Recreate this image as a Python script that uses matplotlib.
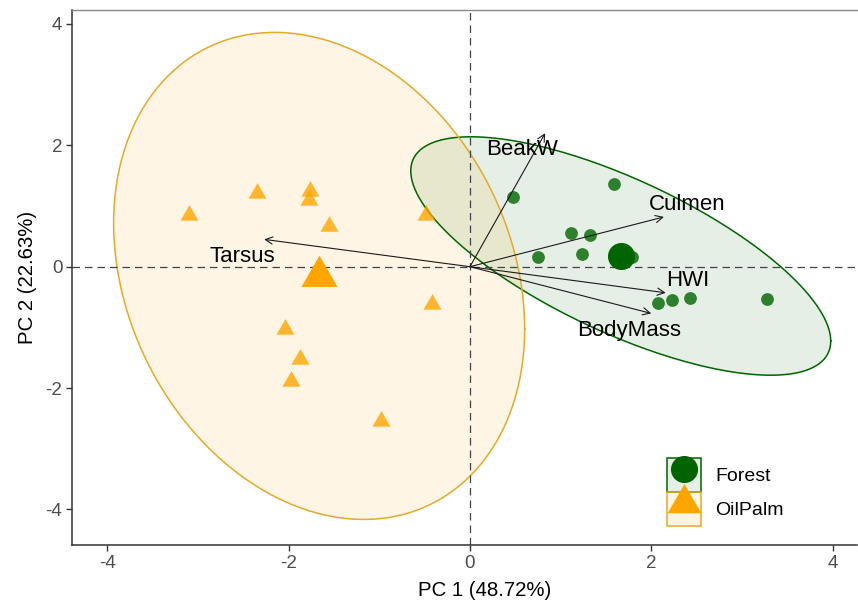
import numpy as np
import matplotlib
matplotlib.use('Agg')
from matplotlib import pyplot as plot
from matplotlib.patches import Patch
from matplotlib.lines import Line2D
from matplotlib.path import Path
from matplotlib.legend_handler import HandlerTuple

plot.rcParams['font.family'] = ['Liberation Sans', 'DejaVu Sans']
plot.rcParams['axes.unicode_minus'] = False

# PCA individual scores
forest_pc1 = [0.48, 1.59, 1.11, 1.33, 0.75, 1.24, 1.79, 2.07, 2.23, 2.43, 3.28]
forest_pc2 = [1.15, 1.36, 0.55, 0.53, 0.16, 0.21, 0.16, -0.59, -0.55, -0.51, -0.53]
oilpalm_pc1 = [-3.10, -2.35, -1.76, -1.77, -1.55, -0.48, -0.42, -2.04, -1.88, -1.97, -0.98]
oilpalm_pc2 = [0.85, 1.21, 1.24, 1.10, 0.67, 0.85, -0.61, -1.03, -1.52, -1.89, -2.54]

# variable loadings (arrow tips)
var_names = ['BeakW', 'Culmen', 'HWI', 'BodyMass', 'Tarsus']
var_pc1 = [0.83, 2.14, 2.16, 2.00, -2.27]
var_pc2 = [2.20, 0.82, -0.43, -0.77, 0.45]

groups = ['Forest', 'OilPalm']
x_label = 'PC 1 (48.72%)'
y_label = 'PC 2 (22.63%)'

# qf(0.95, 2, n - 1) with n = 11, as used by stat_ellipse
F95 = 4.1028

# colours
green = '#006400'
orange = '#FFA500'
orange_edge = '#E3AA2C'

# label offsets (points) from arrow tips
label_offsets = {'BeakW': (-17, -12), 'Culmen': (17, 9), 'HWI': (16, 9),
                 'BodyMass': (-16, -12), 'Tarsus': (-16, -12)}

# equilateral triangle centred on its centroid (like R pch 17)
tri = Path([(0, 0.577), (-0.5, -0.289), (0.5, -0.289), (0, 0.577)],
           [Path.MOVETO, Path.LINETO, Path.LINETO, Path.CLOSEPOLY])


def conf_ellipse(x, y, n_pts=300):
    xy = np.column_stack([x, y])
    center = xy.mean(axis=0)
    cov = np.cov(xy, rowvar=False)
    radius = np.sqrt(2 * F95)
    t = np.linspace(0, 2 * np.pi, n_pts)
    circle = np.column_stack([np.cos(t), np.sin(t)])
    chol = np.linalg.cholesky(cov)
    return center + radius * circle @ chol.T


fig = plot.figure(figsize=(8.58, 6.10), dpi=100)
ax = fig.add_axes([72 / 858, 65 / 610, 785 / 858, 535.3 / 610])

# ellipses
for px, py, col, edge in [(forest_pc1, forest_pc2, green, green),
                          (oilpalm_pc1, oilpalm_pc2, orange, orange_edge)]:
    ell = conf_ellipse(px, py)
    ax.fill(ell[:, 0], ell[:, 1], color=col, alpha=0.1, lw=0, zorder=1)
    ax.plot(ell[:, 0], ell[:, 1], color=edge, lw=1.1, zorder=2)

# reference lines
ax.axhline(0, color='#444444', lw=0.9, ls=(0, (6, 4)), zorder=2.5)
ax.axvline(0, color='#444444', lw=0.9, ls=(0, (6, 4)), zorder=2.5)

# individuals
ax.plot(forest_pc1, forest_pc2, 'o', color=green, alpha=0.8, ms=9.2, mew=0, zorder=3)
ax.plot(oilpalm_pc1, oilpalm_pc2, marker=tri, ls='', color=orange, alpha=0.8, ms=15, mew=0, zorder=3)

# group means
ax.plot(np.mean(forest_pc1), np.mean(forest_pc2), 'o', color=green, ms=19.5, mew=0, zorder=4)
ax.plot(np.mean(oilpalm_pc1), np.mean(oilpalm_pc2), marker=tri, ls='', color=orange, ms=30, mew=0, zorder=4)

# variable arrows
for name, vx, vy in zip(var_names, var_pc1, var_pc2):
    ax.annotate('', xy=(vx, vy), xytext=(0, 0),
                arrowprops=dict(arrowstyle='->', color='#1a1a1a', lw=0.8,
                                mutation_scale=13, shrinkA=0, shrinkB=0),
                zorder=5)
    ax.annotate(name, xy=(vx, vy), xytext=label_offsets[name], textcoords='offset points',
                ha='center', va='center', fontsize=16, color='black', zorder=6)

ax.set_xlim(-4.39, 4.27)
ax.set_ylim(-4.585, 4.234)
ax.set_xticks([-4, -2, 0, 2, 4])
ax.set_yticks([-4, -2, 0, 2, 4])
ax.tick_params(axis='both', direction='out', length=4, width=1, color='#333333',
               labelsize=13.5, labelcolor='#4D4D4D', pad=3)
ax.set_xlabel(x_label, fontsize=14.7, color='black')
ax.set_ylabel(y_label, fontsize=14.7, color='black', labelpad=6)
# the panel continues past the right edge of the picture, so the title sits right of centre
ax.xaxis.set_label_coords((485 - 72) / 785, -(590 - 545) / 535.3)
ax.xaxis.label.set_va('center')

for side in ['left', 'bottom']:
    ax.spines[side].set_color('#333333')
    ax.spines[side].set_linewidth(1.1)
ax.spines['top'].set_color('#888888')
ax.spines['top'].set_linewidth(1.0)
ax.spines['right'].set_visible(False)

# legend
h_forest = (Patch(facecolor=(0, 0.392, 0, 0.1), edgecolor=green, lw=1.1),
            Line2D([], [], marker='o', color=green, ls='', ms=19.5, mew=0))
h_oil = (Patch(facecolor=(1, 0.647, 0, 0.1), edgecolor=orange_edge, lw=1.1),
         Line2D([], [], marker=tri, color=orange, ls='', ms=28, mew=0))
ax.legend([h_forest, h_oil], groups, handler_map={tuple: HandlerTuple(ndivide=1, pad=0)},
          loc='lower left', bbox_to_anchor=((667 - 72) / 785, (545 - 526) / 535.3),
          frameon=False, fontsize=14, handlelength=1.75, handleheight=2.32,
          labelspacing=0, handletextpad=0.75, borderpad=0, borderaxespad=0)

plot.savefig('out.png', dpi=100)
